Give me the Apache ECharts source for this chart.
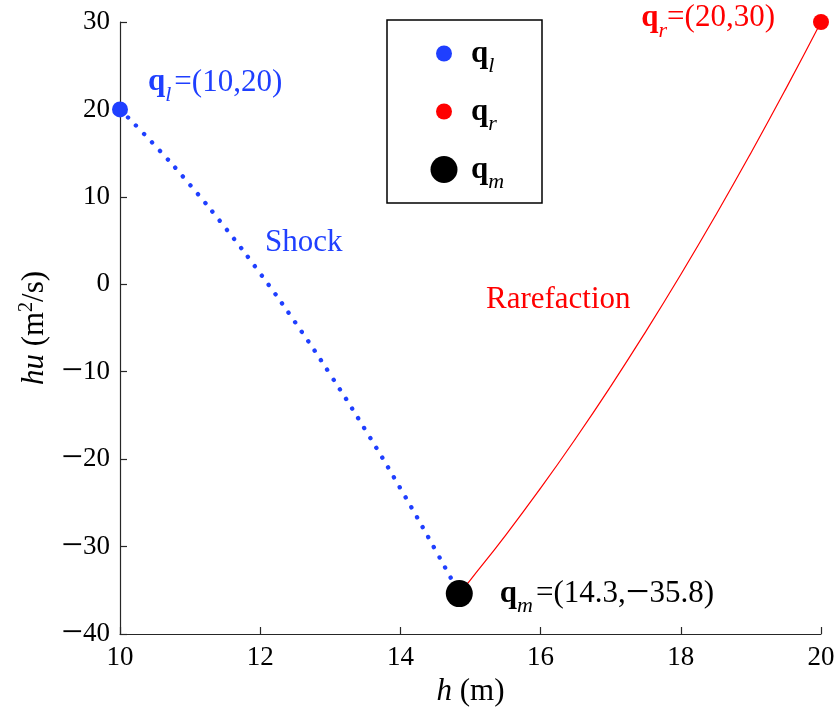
<!DOCTYPE html>
<html><head><meta charset="utf-8">
<script src="https://cdn.jsdelivr.net/npm/echarts@6/dist/echarts.min.js"></script>
<style>html,body{margin:0;padding:0;background:#fff}#c{width:839px;height:718px}</style>
</head><body><div id="c"></div>
<script>
const xTicks = [10, 12, 14, 16, 18, 20];
const yTicks = [-40, -30, -20, -10, 0, 10, 20, 30];
const shockH  = [10, 10.5, 11, 11.5, 12, 12.5, 13, 13.5, 14, 14.5, 14.84];
const shockHu = [20, 15.86, 11.36, 6.48, 1.24, -4.36, -10.33, -16.66, -23.35, -30.40, -35.38];
const rareH  = [14.84, 15, 15.5, 16, 16.5, 17, 17.5, 18, 18.5, 19, 19.5, 20];
const rareHu = [-35.38, -33.80, -28.71, -23.32, -17.64, -11.67, -5.41, 1.12, 7.93, 15.02, 22.38, 30];
const pointNames = ['ql', 'qr', 'qm'];
const pointSubs = ['l', 'r', 'm'];
const pointH  = [10, 20, 14.84];
const pointHu = [20, 30, -35.38];
const pointLabels = ['=(10,20)', '=(20,30)', '=(14.3,\u221235.8)'];
const curveNames = ['Shock', 'Rarefaction'];

const FONT = '"Liberation Serif","Times New Roman",serif';
const BLUE = '#1f3fff', RED = '#ff0000', BLACK = '#000000';
const colors = [BLUE, RED, BLACK];
const sizes = [16, 16, 27];

// wrap minus signs in a wider rich token (MATLAB-style long minus)
const withMinus = (s, tok) => s.split('\u2212').map(p => p ? '{' + tok + '|' + p + '}' : '').join('{n|\u2212}');

function richFor(color, main) {
  return {
    q: { fontFamily: FONT, fontWeight: 'bold', fontSize: 31, color: color },
    s: { fontFamily: FONT, fontStyle: 'italic', fontSize: 22, color: color, padding: [26, 0, 0, 0] },
    t: { fontFamily: FONT, fontSize: main, color: color },
    n: { fontFamily: FONT, fontSize: 42, color: color }
  };
}
const tickFmt = v => withMinus(String(v).replace('-', '\u2212'), 'd');
const tickRich = {
  d: { fontFamily: FONT, fontSize: 27, color: '#000' },
  n: { fontFamily: FONT, fontSize: 38, color: '#000' }
};

const labelPos = [
  { position: 'right', offset: [15, -27] },
  { position: 'left', offset: [-33, -4] },
  { position: 'right', offset: [22, 0] }
];
const spaces = [' ', '', ' '];

const pointSeries = pointNames.map((n, i) => ({
  name: n,
  type: 'scatter',
  z: 5,
  symbol: 'circle',
  symbolSize: sizes[i],
  itemStyle: { color: colors[i], opacity: 1 },
  data: [[pointH[i], pointHu[i]]],
  label: {
    show: true,
    position: labelPos[i].position,
    offset: labelPos[i].offset,
    formatter: '{q|q}{s|' + pointSubs[i] + '}' + spaces[i] + withMinus(pointLabels[i], 't'),
    rich: richFor(colors[i], 31)
  }
}));

const legendCenters = [53, 111, 169];
const legends = pointNames.map((n, i) => ({
  data: [n],
  orient: 'vertical',
  left: 444 - sizes[i] / 2,
  top: legendCenters[i] - 15,
  padding: 0,
  itemWidth: sizes[i],
  itemHeight: sizes[i],
  icon: 'circle',
  selectedMode: false,
  formatter: name => '{q|q}{s|' + pointSubs[pointNames.indexOf(name)] + '}',
  textStyle: { padding: [0, 0, 0, 26 - sizes[i] / 2 - 4], rich: richFor(BLACK, 31) }
}));

const chart = echarts.init(document.getElementById('c'), null, { renderer: 'canvas' });
chart.setOption({
  animation: false,
  backgroundColor: '#fff',
  textStyle: { fontFamily: FONT },
  grid: { left: 120, right: 18, top: 22, bottom: 84, containLabel: false },
  legend: legends,
  xAxis: {
    type: 'value', min: xTicks[0], max: xTicks[xTicks.length - 1], interval: 2,
    name: '{i|h} (m)', nameLocation: 'middle', nameGap: 38,
    nameTextStyle: { fontFamily: FONT, fontSize: 31, color: '#000',
      rich: { i: { fontFamily: FONT, fontStyle: 'italic', fontSize: 31, color: '#000' } } },
    axisLine: { show: true, onZero: false, lineStyle: { color: '#262626', width: 1.2 } },
    axisTick: { show: true, inside: true, length: 7, lineStyle: { color: '#262626', width: 1.2 } },
    axisLabel: { fontFamily: FONT, fontSize: 27, color: '#000', margin: 10, formatter: tickFmt, rich: tickRich },
    splitLine: { show: false }
  },
  yAxis: {
    type: 'value', min: yTicks[0], max: yTicks[yTicks.length - 1], interval: 10,
    name: '{i|hu} (m{p|2}/s)', nameLocation: 'middle', nameGap: 63, nameRotate: 90,
    nameTextStyle: { fontFamily: FONT, fontSize: 31, color: '#000',
      rich: { i: { fontFamily: FONT, fontStyle: 'italic', fontSize: 31, color: '#000' },
              p: { fontFamily: FONT, fontSize: 20, color: '#000', padding: [0, 0, 16, 0] } } },
    axisLine: { show: true, onZero: false, lineStyle: { color: '#262626', width: 1.2 } },
    axisTick: { show: true, inside: true, length: 7, lineStyle: { color: '#262626', width: 1.2 } },
    axisLabel: { fontFamily: FONT, fontSize: 27, color: '#000', margin: 10, formatter: tickFmt, rich: tickRich },
    splitLine: { show: false }
  },
  graphic: [
    { type: 'rect', z: 1, shape: { x: 387, y: 20, width: 155, height: 183 },
      style: { fill: '#fff', stroke: '#000', lineWidth: 1.5 } },
    { type: 'text', z: 3, left: 265, top: 227,
      style: { text: curveNames[0], fill: BLUE, font: '31px ' + FONT } },
    { type: 'text', z: 3, left: 486, top: 284,
      style: { text: curveNames[1], fill: RED, font: '31px ' + FONT } }
  ],
  series: [
    {
      name: curveNames[0], type: 'line', z: 2, symbol: 'none', smooth: true,
      data: shockH.map((h, i) => [h, shockHu[i]]),
      lineStyle: { color: BLUE, width: 4.4, type: [0.1, 11.4], cap: 'round' }
    },
    {
      name: curveNames[1], type: 'line', z: 2, symbol: 'none', smooth: true,
      data: rareH.map((h, i) => [h, rareHu[i]]),
      lineStyle: { color: RED, width: 1.2 }
    }
  ].concat(pointSeries)
});
</script>
</body></html>
